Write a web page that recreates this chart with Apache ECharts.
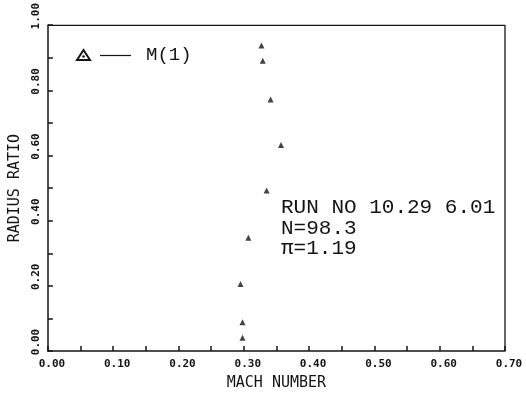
<!DOCTYPE html>
<html>
<head>
<meta charset="utf-8">
<script src="https://cdn.jsdelivr.net/npm/echarts@6/dist/echarts.min.js"></script>
<style>
  html, body { margin: 0; padding: 0; background: #fff; }
  #chart { width: 526px; height: 396px; }
</style>
</head>
<body>
<div id="chart"></div>
<script>
// Measured radial profile: Mach number against radius ratio
const machNumber = [0.327, 0.329, 0.341, 0.357, 0.335, 0.307, 0.295, 0.298, 0.298];
const radiusRatio = [0.938, 0.891, 0.772, 0.632, 0.493, 0.348, 0.206, 0.088, 0.041];

const seriesName = 'M(1)';
const runLines = ['RUN NO 10.29 6.01', 'N=98.3', '\u03c0=1.19'];

const xTicks = { min: 0, max: 0.7, step: 0.1 };
const yTicks = { min: 0, max: 1.0, step: 0.1 };

const ink = '#141414';
const plotFont = 'Liberation Mono';
const tickFont = 'DejaVu Sans Mono';

const points = machNumber.map((m, i) => [m, radiusRatio[i]]);

const chart = echarts.init(document.getElementById('chart'), null, { renderer: 'canvas' });

chart.setOption({
  backgroundColor: '#ffffff',
  animation: false,
  grid: { left: 38, right: 21, top: 25, bottom: 39, containLabel: false },
  xAxis: {
    type: 'value',
    min: xTicks.min, max: xTicks.max, interval: xTicks.step,
    name: 'MACH NUMBER',
    nameLocation: 'middle',
    nameGap: 25,
    nameTextStyle: { fontFamily: tickFont, fontSize: 15, color: ink },
    axisLine: { show: true, onZero: false, lineStyle: { color: ink, width: 1.5 } },
    axisTick: { show: true, inside: true, length: 5, lineStyle: { color: ink, width: 1.5 } },
    minorTick: { show: true, splitNumber: 2, length: 5, lineStyle: { color: ink, width: 1.5 } },
    axisLabel: {
      fontFamily: tickFont, fontSize: 11, fontWeight: 'bold', color: ink, margin: 8,
      padding: [0, 0, 0, 8],
      formatter: v => v.toFixed(2)
    },
    splitLine: { show: false }
  },
  yAxis: {
    type: 'value',
    min: yTicks.min, max: yTicks.max, interval: yTicks.step,
    name: 'RADIUS RATIO',
    nameLocation: 'middle',
    nameGap: 13,
    nameRotate: 90,
    nameTextStyle: { fontFamily: tickFont, fontSize: 15, color: ink },
    axisLine: { show: true, onZero: false, lineStyle: { color: ink, width: 1.5 } },
    axisTick: { show: true, inside: true, length: 5, lineStyle: { color: ink, width: 1.5 } },
    axisLabel: {
      rotate: 90, fontFamily: tickFont, fontSize: 11, fontWeight: 'bold', color: ink, margin: 6,
      padding: [0, 0, 0, 18],
      formatter: v => (Math.round(v * 10) % 2 === 0 ? v.toFixed(2) : '')
    },
    splitLine: { show: false }
  },
  series: [
    {
      name: seriesName,
      type: 'scatter',
      data: points,
      symbol: 'triangle',
      symbolSize: [6, 6],
      itemStyle: { color: ink }
    },
    {
      // plain frame on the top and right edges
      type: 'line',
      data: [[xTicks.min, yTicks.max], [xTicks.max, yTicks.max], [xTicks.max, yTicks.min]],
      symbol: 'none',
      lineStyle: { color: ink, width: 1.3 },
      silent: true
    }
  ],
  graphic: [
    {
      type: 'polygon',
      shape: { points: [[77, 60], [90, 60], [83.5, 50]] },
      style: { fill: 'none', stroke: ink, lineWidth: 2 }
    },
    {
      type: 'circle',
      shape: { cx: 83.5, cy: 56.5, r: 1.3 },
      style: { fill: ink }
    },
    {
      type: 'line',
      shape: { x1: 100, y1: 55.5, x2: 131, y2: 55.5 },
      style: { stroke: ink, lineWidth: 1.2 }
    },
    {
      type: 'text',
      left: 146, top: 45,
      style: { text: 'M(1)', fontFamily: plotFont, fontSize: 19, fill: ink }
    },
    {
      type: 'text',
      left: 281, top: 197,
      style: {
        text: runLines.join('\n'),
        fontFamily: plotFont, fontSize: 21, lineHeight: 20.5, fill: ink
      }
    }
  ]
});
</script>
</body>
</html>
